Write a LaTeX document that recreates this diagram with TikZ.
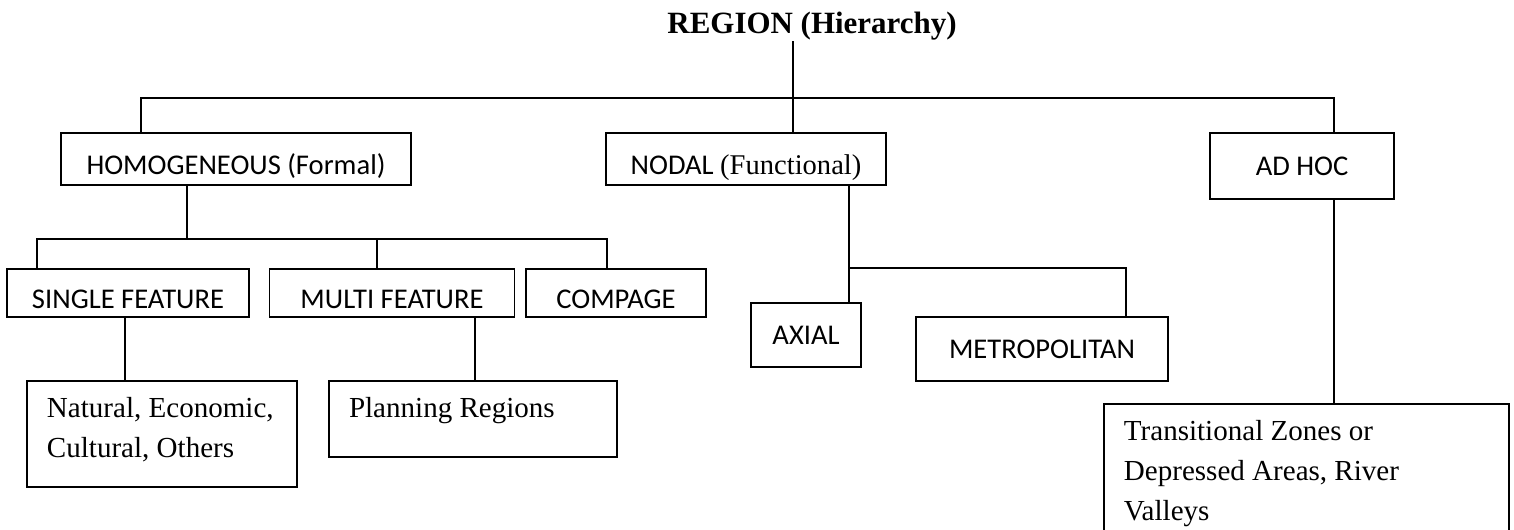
\documentclass[tikz,border=0pt]{standalone}
\usepackage{fontspec}
\setmainfont{Liberation Serif}
\setsansfont{Carlito}
\newdimen\pxu \pxu=0.42pt
\begin{document}
\begin{tikzpicture}[x=0.42pt,y=-0.42pt,line width=0.8pt,
  box/.style={draw,rectangle,inner sep=0pt,font=\sffamily\fontsize{12}{14}\selectfont},
  wh/.style 2 args={minimum width=#1*\pxu,minimum height=#2*\pxu},
  low/.style={text height=12.6pt,text depth=0pt},
  note/.style={anchor=north west,inner sep=0pt,align=left,font=\fontsize{12.2}{16.8}\selectfont}]
\useasboundingbox (0,0) rectangle (1514,529);
\node[inner sep=0pt,text depth=3pt,anchor=base,font=\bfseries\fontsize{13}{15}\selectfont] (ttl) at (812,33) {REGION (Hierarchy)};
% first level
\node[box,low,wh={350}{52}] (hom) at (236,159) {HOMOGENEOUS (Formal)};
\node[box,low,wh={280}{52}] (nod) at (746,159) {NODAL \rmfamily(Functional)};
\node[box,wh={184}{66}] (adh) at (1302,166) {AD HOC};
% second level
\node[box,low,wh={242}{48}] (sgl) at (128,293) {SINGLE FEATURE};
\node[box,low,wh={245}{48}] (mul) at (392,293) {MULTI FEATURE};
\node[box,low,wh={180}{48}] (cmp) at (616,293) {COMPAGE};
\node[box,wh={110}{64}] (axl) at (806,335) {AXIAL};
\node[box,wh={252}{64}] (met) at (1042,349) {METROPOLITAN};
% examples
\node[box,wh={270}{106}] (nat) at (162,434) {};
\node[box,wh={288}{76}] (pln) at (473,419) {};
\node[box,wh={405}{170},anchor=north west] (trn) at (1103,403) {};
\node[note] (natt) at ([xshift=20*\pxu,yshift=-16*\pxu]nat.north west) {Natural, Economic,\\Cultural, Others};
\node[note] (plnt) at ([xshift=20*\pxu,yshift=-16*\pxu]pln.north west) {Planning Regions};
\node[note] (trnt) at ([xshift=20*\pxu,yshift=-16*\pxu]trn.north west) {Transitional Zones or\\Depressed Areas, River\\Valleys};
% connectors
\coordinate (top) at (793,98);
\draw (ttl.south -| top) -- (nod.north -| top);
\draw (hom.north -| 141,0) |- (top) -| (adh.north -| 1334,0);
\coordinate (hsub) at (187,239);
\draw (hom.south -| hsub) -- (hsub);
\draw (sgl.north -| 37,0) |- (hsub) -| (cmp.north -| 607,0);
\draw (hsub -| 377,0) -- (mul.north -| 377,0);
\draw (sgl.south -| 125,0) -- (nat.north -| 125,0);
\draw (mul.south -| 475,0) -- (pln.north -| 475,0);
\coordinate (nsub) at (849,268);
\draw (nod.south -| nsub) -- (axl.north -| nsub);
\draw (nsub) -| (met.north -| 1126,0);
\draw (adh.south -| 1334,0) -- (trn.north -| 1334,0);
\end{tikzpicture}
\end{document}
